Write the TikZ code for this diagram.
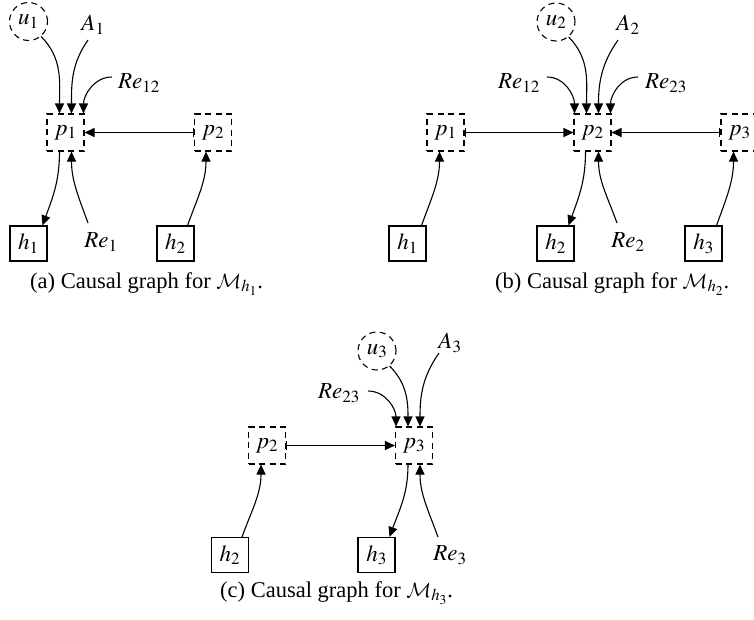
\documentclass[tikz,border=0pt]{standalone}
\usepackage{mathptmx}
\usepackage{fontspec}
\setmainfont{Liberation Serif}
\DeclareMathAlphabet{\mathcal}{OMS}{cmsy}{m}{n}
\usetikzlibrary{arrows.meta,calc}
\tikzset{
  every node/.style={font=\fontsize{23}{26}\selectfont},
  pbox/.style={draw, line width=1.1pt, dash pattern=on 6pt off 4.5pt, minimum width=37pt, minimum height=37pt, inner sep=0pt},
  hbox/.style={draw, line width=1.1pt, minimum width=37pt, minimum height=35pt, inner sep=0pt},
  ucirc/.style={draw, circle, line width=1.1pt, dash pattern=on 6pt off 4.5pt, minimum size=38pt, inner sep=0pt},
  lbl/.style={inner sep=0pt},
  captxt/.style={anchor=base west, inner sep=0pt, font=\fontsize{22.5}{26}\selectfont},
  arr/.style={line width=1.1pt, -{Triangle[length=10pt,width=9pt]}},
  barr/.style={line width=1.1pt, {Bar[width=9pt]}-{Triangle[length=10pt,width=9pt]}}
}
\begin{document}
\begin{tikzpicture}[x=1pt,y=1pt]
\useasboundingbox (0,0) rectangle (754,-619);
% ---------- (a)
\node[ucirc] (u1) at (28.5,-21.5) {$u_1$};
\node[lbl] (A1) at (93,-25) {$A_1$};
\node[lbl] (Re12a) at (139,-83) {$Re_{12}$};
\node[pbox] (p1a) at (65.5,-132.5) {$p_1$};
\node[pbox] (p2a) at (213,-132.5) {$p_2$};
\node[hbox] (h1a) at (28.5,-243.5) {$h_1$};
\node[lbl] (Re1a) at (101,-242) {$Re_1$};
\node[hbox] (h2a) at (175.5,-243.5) {$h_2$};
\node[captxt] (capa) at (30,-288) {(a) Causal graph for $\mathcal{M}_{h_1}$.};
\draw[arr] (u1.-50) to[out=-45,in=90] ($(p1a.north)+(-6,0)$);
\draw[arr] ($(A1)+(-5,-15)$) to[out=-125,in=90] ($(p1a.north)+(6,0)$);
\draw[arr] ($(Re12a)+(-27,6)$) to[out=180,in=90] ($(p1a.north)+(18,0)$);
\draw[barr] (p2a.west) -- (p1a.east);
\draw[arr] ($(p1a.south)+(-6,0)$) to[out=-90,in=70] ($(h1a.north)+(14,0)$);
\draw[arr] ($(Re1a)+(-13,19)$) to[out=110,in=-90] ($(p1a.south)+(6,0)$);
\draw[arr] ($(h2a.north)+(12,0)$) to[out=70,in=-90] ($(p2a.south)+(-7,0)$);
% ---------- (b)
\node[ucirc] (u2) at (556,-22) {$u_2$};
\node[lbl] (A2) at (628,-25) {$A_2$};
\node[lbl] (Re12b) at (519,-83) {$Re_{12}$};
\node[lbl] (Re23b) at (666,-83) {$Re_{23}$};
\node[pbox] (p1b) at (445.5,-132.5) {$p_1$};
\node[pbox] (p2b) at (592.5,-132.5) {$p_2$};
\node[pbox] (p3b) at (739.5,-132.5) {$p_3$};
\node[hbox] (h1b) at (407.5,-243.5) {$h_1$};
\node[hbox] (h2b) at (555.5,-243.5) {$h_2$};
\node[lbl] (Re2b) at (628,-242) {$Re_2$};
\node[hbox] (h3b) at (703.5,-243.5) {$h_3$};
\node[captxt] (capb) at (495,-288) {(b) Causal graph for $\mathcal{M}_{h_2}$.};
\draw[arr] ($(Re12b)+(28,6)$) to[out=0,in=90] ($(p2b.north)+(-18,0)$);
\draw[arr] (u2.-50) to[out=-45,in=90] ($(p2b.north)+(-6,0)$);
\draw[arr] ($(A2)+(-10,-15)$) to[out=-125,in=90] ($(p2b.north)+(6,0)$);
\draw[arr] ($(Re23b)+(-28,6)$) to[out=180,in=90] ($(p2b.north)+(18,0)$);
\draw[barr] (p1b.east) -- (p2b.west);
\draw[barr] (p3b.west) -- (p2b.east);
\draw[arr] ($(p2b.south)+(-7,0)$) to[out=-90,in=70] ($(h2b.north)+(13,0)$);
\draw[arr] ($(Re2b)+(-11,19)$) to[out=110,in=-90] ($(p2b.south)+(6,0)$);
\draw[arr] ($(h1b.north)+(14,0)$) to[out=70,in=-90] ($(p1b.south)+(-6,0)$);
\draw[arr] ($(h3b.north)+(13,0)$) to[out=70,in=-90] ($(p3b.south)+(-6,0)$);
% ---------- (c)
\node[ucirc] (u3) at (377,-351) {$u_3$};
\node[lbl] (A3) at (450,-343) {$A_3$};
\node[lbl] (Re23c) at (339,-393) {$Re_{23}$};
\node[pbox] (p2c) at (267,-445.5) {$p_2$};
\node[pbox] (p3c) at (414,-445.5) {$p_3$};
\node[hbox] (h2c) at (230,-555) {$h_2$};
\node[hbox] (h3c) at (376.5,-555) {$h_3$};
\node[lbl] (Re3c) at (450,-555) {$Re_3$};
\node[captxt] (capc) at (220,-597) {(c) Causal graph for $\mathcal{M}_{h_3}$.};
\draw[arr] ($(Re23c)+(29,2)$) to[out=0,in=90] ($(p3c.north)+(-18,0)$);
\draw[arr] (u3.-50) to[out=-45,in=90] ($(p3c.north)+(-6,0)$);
\draw[arr] ($(A3)+(-11,-10)$) to[out=-125,in=90] ($(p3c.north)+(6,0)$);
\draw[barr] (p2c.east) -- (p3c.west);
\draw[arr] ($(p3c.south)+(-6,0)$) to[out=-90,in=70] ($(h3c.north)+(13,0)$);
\draw[arr] ($(Re3c)+(-12,18)$) to[out=110,in=-90] ($(p3c.south)+(6,0)$);
\draw[arr] ($(h2c.north)+(12,0)$) to[out=70,in=-90] ($(p2c.south)+(-6,0)$);
\end{tikzpicture}
\end{document}
